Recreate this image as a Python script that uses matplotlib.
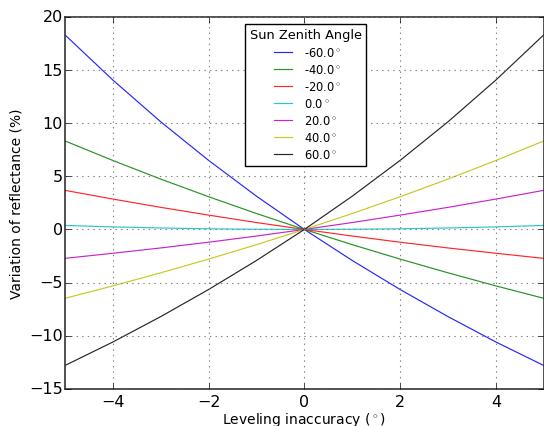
import matplotlib
matplotlib.use("Agg")
import matplotlib.pyplot as plt

plt.style.use('classic')

x = [-5, -4, -3, -2, -1, 0, 1, 2, 3, 4, 5]
angles = [-60.0, -40.0, -20.0, 0.0, 20.0, 40.0, 60.0]
colors = ['b', 'g', 'r', 'c', 'm', 'y', 'k']

s_m60 = [18.31, 14.06, 10.13, 6.50, 3.13, 0.0, -2.92, -5.65, -8.20, -10.59, -12.80]
s_m40 = [8.33, 6.49, 4.74, 3.08, 1.50, 0.0, -1.43, -2.79, -4.08, -5.31, -6.48]
s_m20 = [3.68, 2.86, 2.08, 1.35, 0.65, 0.0, -0.62, -1.20, -1.74, -2.24, -2.72]
s_0 = [0.38, 0.24, 0.14, 0.06, 0.02, 0.0, 0.02, 0.06, 0.14, 0.24, 0.38]
s_20 = [-2.72, -2.24, -1.74, -1.20, -0.62, 0.0, 0.65, 1.35, 2.08, 2.86, 3.68]
s_40 = [-6.48, -5.31, -4.08, -2.79, -1.43, 0.0, 1.50, 3.08, 4.74, 6.49, 8.33]
s_60 = [-12.80, -10.59, -8.20, -5.65, -2.92, 0.0, 3.13, 6.50, 10.13, 14.06, 18.31]
series = [s_m60, s_m40, s_m20, s_0, s_20, s_40, s_60]

fig = plt.figure(figsize=(5.44, 4.27), dpi=100, facecolor='white')
ax = fig.add_axes([0.1195, 0.087, 0.88, 0.871])
for a, ys, c in zip(angles, series, colors):
    ax.plot(x, ys, color=c, lw=0.85, alpha=0.85, label='%.1f$^\\circ$' % a)
ax.set_xlim(-5, 5)
ax.set_ylim(-15, 20)
ax.grid(True, color='gray', linestyle=':', linewidth=0.8)
for sp in ax.spines.values():
    sp.set_color('#333333')
    sp.set_linewidth(1.2)
ax.tick_params(labelsize=11.5)
ax.tick_params(axis='y', pad=1.5)
ax.set_xlabel('Leveling inaccuracy ($^\\circ$)', fontsize=10, labelpad=0.3)
ax.set_ylabel('Variation of reflectance (%)', fontsize=10)
ax.yaxis.set_label_coords(-0.086, 0.5)
leg = ax.legend(loc='upper center', bbox_to_anchor=(0.503, 0.997),
                title='Sun Zenith Angle', fontsize=8.3,
                frameon=True, handlelength=2.2, handletextpad=0.7,
                labelspacing=0.36)
leg.get_title().set_fontsize(9.3)
fig.savefig('out.png', dpi=100, facecolor='white')
